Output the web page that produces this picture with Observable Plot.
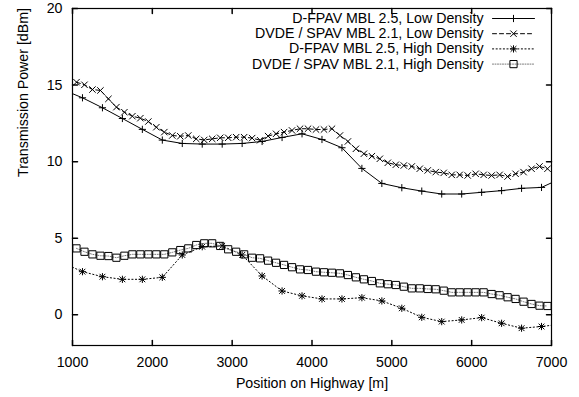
<!DOCTYPE html>
<html>
<head>
<meta charset="utf-8">
<script src="https://cdn.jsdelivr.net/npm/d3@7"></script>
<script src="https://cdn.jsdelivr.net/npm/@observablehq/plot@0.6"></script>
<style>
  html, body { margin: 0; padding: 0; background: #fff; }
</style>
</head>
<body>
<div id="chart"></div>
<script>
// ---------- data ----------
const xTicks = [1000, 2000, 3000, 4000, 5000, 6000, 7000];
const yTicks = [0, 5, 10, 15, 20];
const xLabel = "Position on Highway [m]";
const yLabel = "Transmission Power [dBm]";
const seriesNames = [
  "D-FPAV MBL 2.5, Low Density",
  "DVDE / SPAV MBL 2.1, Low Density",
  "D-FPAV MBL 2.5, High Density",
  "DVDE / SPAV MBL 2.1, High Density"
];

// D-FPAV samples (every 250 m; outer points lie just outside the shown range)
const posCoarse = [875, 1125, 1375, 1625, 1875, 2125, 2375, 2625, 2875, 3125, 3375, 3625, 3875,
  4125, 4375, 4625, 4875, 5125, 5375, 5625, 5875, 6125, 6375, 6625, 6875, 7125];
const fpavLow = [14.71, 14.17, 13.52, 12.82, 12.11, 11.41, 11.19, 11.15, 11.15, 11.19, 11.32, 11.58, 11.82,
  11.45, 10.91, 9.56, 8.58, 8.30, 8.08, 7.89, 7.89, 8.00, 8.11, 8.26, 8.32, 8.92];
const fpavHigh = [3.40, 2.82, 2.49, 2.32, 2.32, 2.45, 3.91, 4.45, 4.50, 3.91, 2.54, 1.56, 1.24,
  1.04, 1.04, 1.12, 0.91, 0.43, -0.16, -0.44, -0.33, -0.18, -0.55, -0.87, -0.76, -0.60];

// DVDE / SPAV samples (every 100 m)
const posFine = [1050, 1150, 1250, 1350, 1450, 1550, 1650, 1750, 1850, 1950,
  2050, 2150, 2250, 2350, 2450, 2550, 2650, 2750, 2850, 2950,
  3050, 3150, 3250, 3350, 3450, 3550, 3650, 3750, 3850, 3950,
  4050, 4150, 4250, 4350, 4450, 4550, 4650, 4750, 4850, 4950,
  5050, 5150, 5250, 5350, 5450, 5550, 5650, 5750, 5850, 5950,
  6050, 6150, 6250, 6350, 6450, 6550, 6650, 6750, 6850, 6950];
const dvdeLow = [15.19, 15.02, 14.71, 14.65, 14.10, 13.56, 13.23, 12.97, 12.84, 12.62,
  12.25, 11.93, 11.71, 11.66, 11.71, 11.49, 11.42, 11.49, 11.56, 11.56,
  11.60, 11.60, 11.54, 11.40, 11.67, 11.82, 11.93, 12.04, 12.15, 12.15,
  12.10, 12.10, 12.15, 11.71, 11.32, 10.84, 10.52, 10.36, 10.19, 9.93,
  9.80, 9.75, 9.69, 9.54, 9.43, 9.32, 9.27, 9.14, 9.14, 9.10,
  9.21, 9.14, 9.10, 9.14, 9.03, 9.21, 9.32, 9.54, 9.69, 9.54];
const dvdeHigh = [4.34, 4.12, 3.95, 3.86, 3.84, 3.73, 3.86, 3.95, 3.95, 3.95,
  3.95, 3.95, 4.08, 4.23, 4.34, 4.56, 4.67, 4.67, 4.50, 4.28,
  4.12, 3.95, 3.73, 3.69, 3.54, 3.40, 3.26, 3.11, 2.97, 2.93,
  2.82, 2.78, 2.75, 2.71, 2.60, 2.45, 2.32, 2.21, 2.06, 2.00,
  1.95, 1.84, 1.73, 1.73, 1.69, 1.67, 1.58, 1.47, 1.47, 1.47,
  1.47, 1.47, 1.36, 1.28, 1.15, 1.04, 0.86, 0.71, 0.60, 0.58];

// ---------- styling ----------
const FONT = "'Liberation Sans', Arial, Helvetica, sans-serif";
const FS = 14.2;

const symPlus = {draw(c, size) { const r = Math.sqrt(size / Math.PI);
  c.moveTo(-r, 0); c.lineTo(r, 0); c.moveTo(0, -r); c.lineTo(0, r); }};
const symTimes = {draw(c, size) { const r = Math.sqrt(size / Math.PI);
  c.moveTo(-r, -r); c.lineTo(r, r); c.moveTo(-r, r); c.lineTo(r, -r); }};
const symStar = {draw(c, size) { const r = Math.sqrt(size / Math.PI); const d = r * 0.8;
  c.moveTo(-r, 0); c.lineTo(r, 0); c.moveTo(0, -r); c.lineTo(0, r);
  c.moveTo(-d, -d); c.lineTo(d, d); c.moveTo(-d, d); c.lineTo(d, -d); }};
const symSquare = {draw(c, size) { const r = Math.sqrt(size / Math.PI);
  c.rect(-r, -r, 2 * r, 2 * r); }};

const tickShape = {draw(c, l) { c.moveTo(0, 0); c.lineTo(0, -l); }};

const series = [
  {name: seriesNames[0], xs: posCoarse, ys: fpavLow, symbol: symPlus, r: 3.6, dash: null, lineColor: "#000"},
  {name: seriesNames[1], xs: posFine, ys: dvdeLow, symbol: symTimes, r: 3.2, dash: "4,3", lineColor: "#000"},
  {name: seriesNames[2], xs: posCoarse, ys: fpavHigh, symbol: symStar, r: 3.6, dash: "1.2,2.4", lineColor: "#000"},
  {name: seriesNames[3], xs: posFine, ys: dvdeHigh, symbol: symSquare, r: 3.6, dash: "1,1.5", lineColor: "#777"}
];

const marks = [];
series.forEach((s, i) => {
  const data = s.xs.map((x, j) => ({x, y: s.ys[j]}));
  marks.push(Plot.line(data, {x: "x", y: "y", stroke: s.lineColor, strokeWidth: 1,
    strokeDasharray: s.dash, clip: true}));
  marks.push(Plot.dot(data, {x: "x", y: "y", symbol: s.symbol, r: s.r, stroke: "#000",
    strokeWidth: 1, fill: "none", clip: true}));
  // legend row
  const dy = 10 + 15.2 * i;
  marks.push(Plot.text([s.name], {text: d => d, frameAnchor: "top-right", dx: -68, dy,
    textAnchor: "end", lineAnchor: "middle", fontSize: FS, fill: "#000"}));
  marks.push(Plot.vector([s.name], {frameAnchor: "top-right", dx: -59, dy, rotate: 90, length: 42,
    anchor: "start", shape: tickShape, stroke: s.lineColor, strokeWidth: 1, strokeDasharray: s.dash}));
  marks.push(Plot.dot([s.name], {frameAnchor: "top-right", dx: -38, dy, symbol: s.symbol, r: s.r,
    stroke: "#000", strokeWidth: 1, fill: "none"}));
});

const chart = Plot.plot({
  width: 579,
  height: 397,
  marginLeft: 72,
  marginRight: 28,
  marginTop: 8,
  marginBottom: 52,
  style: {fontFamily: FONT, fontSize: FS + "px", background: "#fff", color: "#000"},
  x: {domain: [1000, 7000]},
  y: {domain: [-2, 20]},
  marks: [
    Plot.axisX({ticks: xTicks, tickSize: 0, tickPadding: 11, label: null, fontSize: FS, tickFormat: d => String(d)}),
    Plot.axisY({ticks: yTicks, tickSize: 0, tickPadding: 10, label: null, fontSize: FS}),
    Plot.vector(xTicks, {x: d => d, frameAnchor: "bottom", rotate: 0, length: 5, anchor: "start", shape: tickShape, stroke: "#000"}),
    Plot.vector(xTicks, {x: d => d, frameAnchor: "top", rotate: 180, length: 5, anchor: "start", shape: tickShape, stroke: "#000"}),
    Plot.vector(yTicks, {y: d => d, frameAnchor: "left", rotate: 90, length: 5, anchor: "start", shape: tickShape, stroke: "#000"}),
    Plot.vector(yTicks, {y: d => d, frameAnchor: "right", rotate: -90, length: 5, anchor: "start", shape: tickShape, stroke: "#000"}),
    ...marks,
    Plot.frame({stroke: "#000", strokeWidth: 1.2}),
    Plot.text([xLabel], {text: d => d, frameAnchor: "bottom", dy: 38, lineAnchor: "middle", fontSize: FS, fill: "#000"}),
    Plot.text([yLabel], {text: d => d, frameAnchor: "left", dx: -49, rotate: -90, lineAnchor: "middle", fontSize: FS, fill: "#000"})
  ]
});
document.getElementById("chart").appendChild(chart);
</script>
</body>
</html>
